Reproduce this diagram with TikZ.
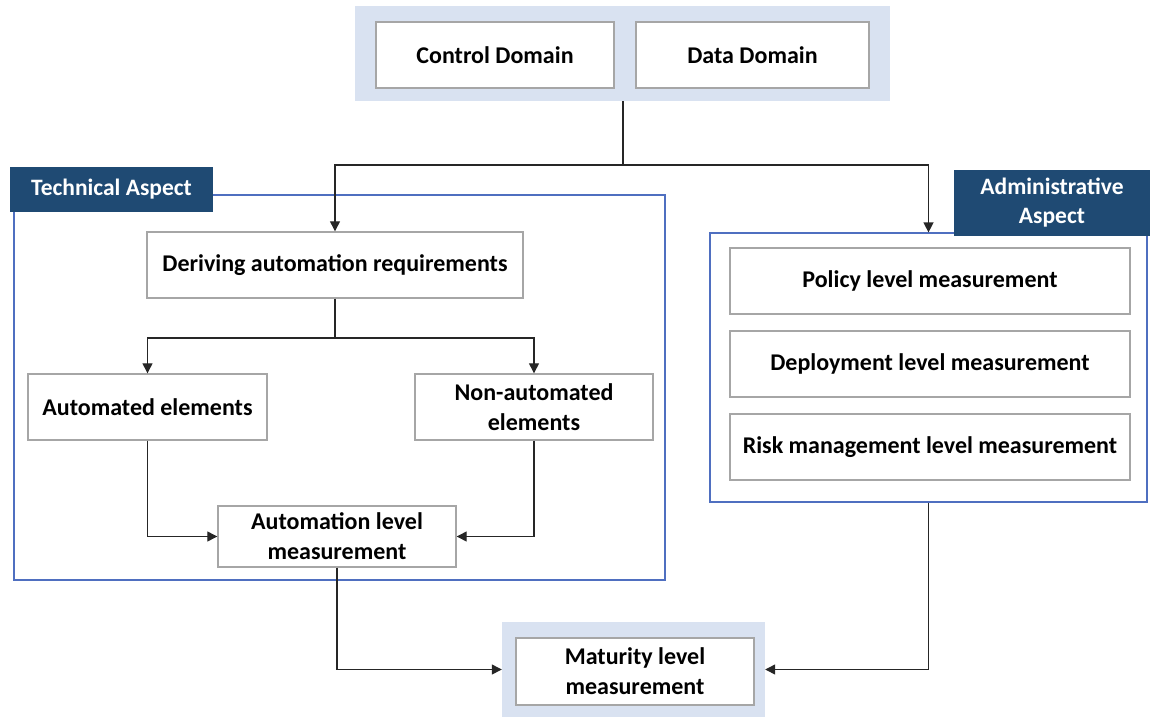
\documentclass[tikz,border=0pt]{standalone}
\usepackage{fontspec}
\setmainfont{Carlito}
\usetikzlibrary{arrows.meta}
\definecolor{bandc}{HTML}{D9E2F1}
\definecolor{labc}{HTML}{1F4A73}
\definecolor{framec}{HTML}{4F6FC0}
\definecolor{boxc}{HTML}{A6A6A6}
\begin{document}
\begin{tikzpicture}[x=1pt,y=-1pt,
  box/.style={draw=boxc,line width=1.4pt,fill=white,inner sep=1pt,align=center,
    font=\fontsize{24}{30}\selectfont\bfseries},
  band/.style={fill=bandc,draw=none},
  frame/.style={draw=framec,line width=1.2pt},
  lab/.style={fill=labc,draw=none,text=white,align=center,inner sep=0pt,
    font=\fontsize{23.5}{29}\selectfont\bfseries},
  conn/.style={draw=black!85,line width=1.3pt},
  arr/.style={conn,-{Triangle[length=10pt,width=10pt]}}]
\useasboundingbox (0,0) rectangle (1151,717);
% top band
\node[band,minimum width=535,minimum height=95] (topband) at (622.5,53.5) {};
\node[box,minimum width=238,minimum height=66] (cd) at (495,55) {Control Domain};
\node[box,minimum width=233,minimum height=66] (dd) at (752.5,55) {Data Domain};
% technical frame
\node[frame,minimum width=651,minimum height=385] (techf) at (339.5,387.5) {};
\node[lab,minimum width=203,minimum height=45] (techl) at (111.5,189.5) {Technical Aspect};
% admin frame
\node[frame,minimum width=437,minimum height=269] (admf) at (928.5,367.5) {};
\node[lab,minimum width=196,minimum height=66] (adml) at (1052,203) {Administrative\\Aspect};
% technical boxes
\node[box,minimum width=376,minimum height=66] (der) at (335,265) {Deriving automation requirements};
\node[box,minimum width=239,minimum height=66] (auto) at (147.5,407) {Automated elements};
\node[box,minimum width=238,minimum height=66] (non) at (534,407) {Non-automated\\elements};
\node[box,minimum width=238,minimum height=61] (alm) at (337,536.5) {Automation level\\measurement};
% admin boxes
\node[box,minimum width=400,minimum height=66] (pol) at (930,281) {Policy level measurement};
\node[box,minimum width=400,minimum height=66] (dep) at (930,364) {Deployment level measurement};
\node[box,minimum width=400,minimum height=66] (risk) at (930,447) {Risk management level measurement};
% maturity
\node[band,minimum width=263,minimum height=95] (matband) at (633.5,669.5) {};
\node[box,minimum width=238,minimum height=67] (mat) at (635,671.5) {Maturity level\\measurement};
% connectors
\coordinate (j1) at (623,165);
\coordinate (j2) at (335,338);
\draw[conn] (topband.south -| j1) -- (j1);
\draw[arr] (j1) -| (der.north);
\draw[arr] (j1) -| (admf.north);
\draw[conn] (der.south) -- (j2);
\draw[arr] (j2) -| (auto.north);
\draw[arr] (j2) -| (non.north);
\draw[arr] (auto.south) |- (alm.west);
\draw[arr] (non.south) |- (alm.east);
\draw[arr] (alm.south) |- (matband.west);
\draw[arr] (admf.south) |- (matband.east);
\end{tikzpicture}
\end{document}
